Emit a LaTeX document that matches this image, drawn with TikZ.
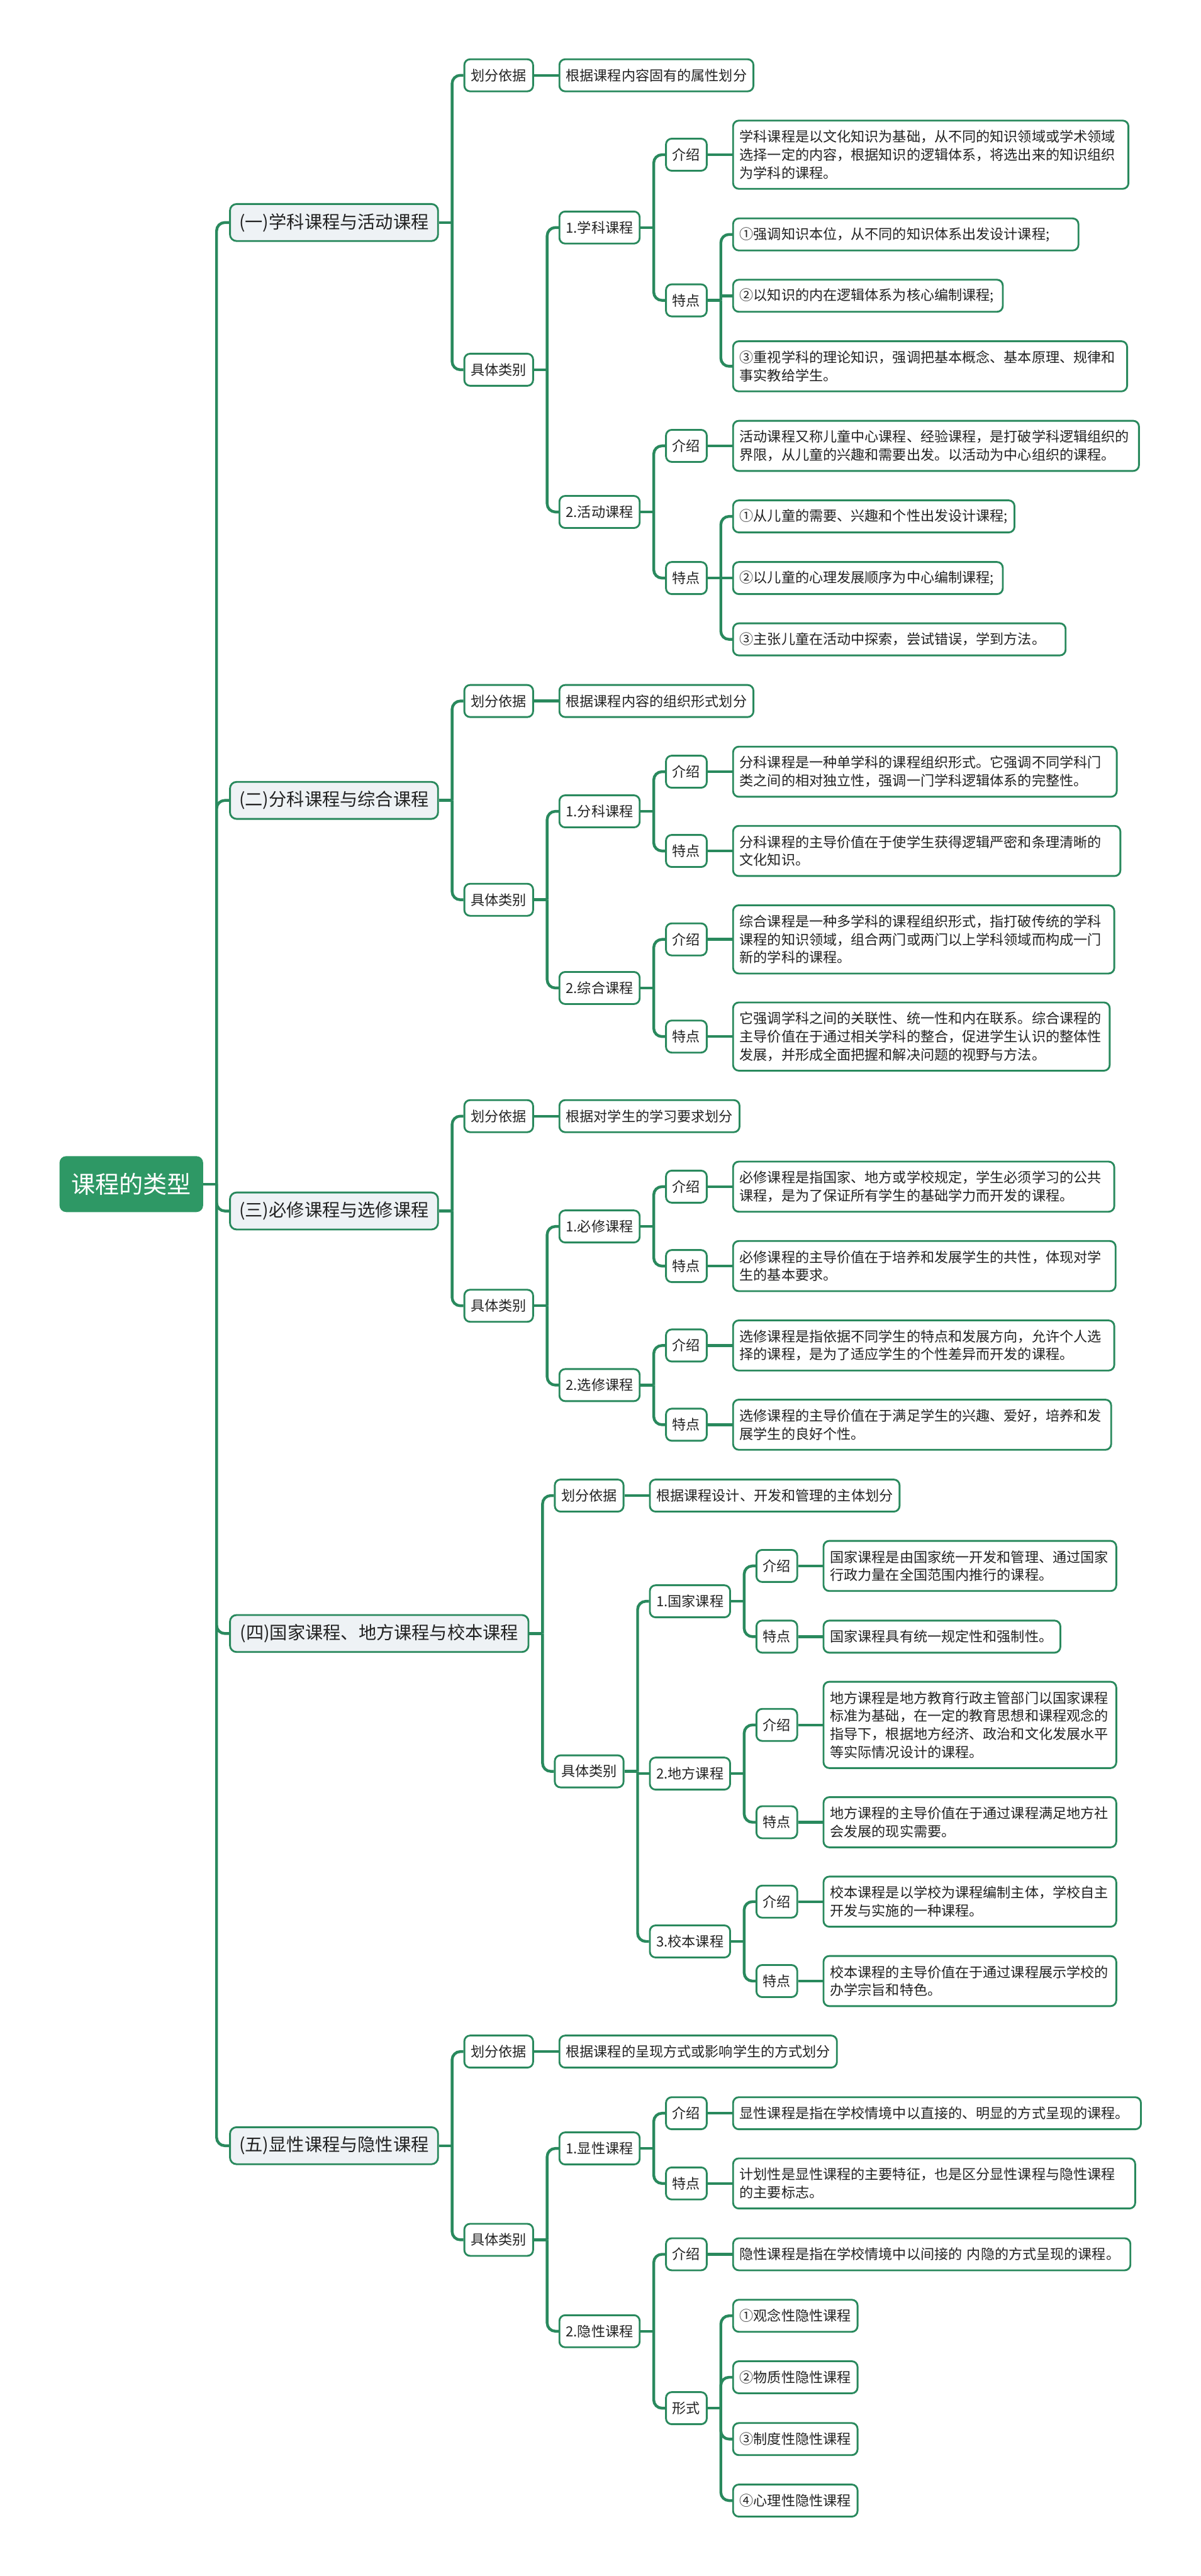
\documentclass[tikz,border=0pt]{standalone}
\usepackage{fontspec}
\newfontfamily\cjk{Noto Sans CJK SC}
\usetikzlibrary{backgrounds}
\definecolor{lg}{RGB}{41,137,93}
\definecolor{rootg}{RGB}{46,152,101}
\definecolor{lonefill}{RGB}{238,242,245}
\definecolor{txt}{RGB}{34,34,34}
\newcommand\mkstub[2]{\draw[conn] (#1.east) -- ++(8pt,0) coordinate (#2);}
\newcommand\mkelb[2]{\draw[conn] (#1) |- (#2.west);}
\newcommand\mkflat[2]{\draw[conn] (#1 |- #2.west) -- (#2.west);}
\newcommand\mkline[2]{\draw[conn] (#1.east) -- (#2.west);}
\begin{document}
\begin{tikzpicture}[x=1pt,y=-1pt,
  conn/.style={draw=lg, line width=1.7pt, rounded corners=5pt},
  nbase/.style={anchor=west, inner xsep=0pt, inner ysep=0pt, text=txt},
  rootbox/.style={nbase, fill=rootg, rounded corners=4pt, text=white,
    font=\cjk\fontsize{14.6}{17}\selectfont, minimum width=87.3pt, minimum height=34pt},
  lone/.style={nbase, draw=lg, line width=1.1pt, fill=lonefill, rounded corners=4pt,
    font=\cjk\fontsize{10.8}{13}\selectfont, minimum height=22.5pt, minimum width=126.5pt},
  lab/.style={nbase, draw=lg, line width=1.1pt, fill=white, rounded corners=3.5pt,
    font=\cjk\fontsize{8.46}{11}\selectfont, minimum height=19.5pt},
  ltwo/.style={lab, minimum width=41.8pt},
  lthree/.style={lab, minimum width=48.8pt},
  lfour/.style={lab, minimum width=24.8pt},
  leaf/.style={lab, inner xsep=4pt, align=left},
  lines2/.style={minimum height=30.5pt},
  lines3/.style={minimum height=41.5pt},
  lines4/.style={minimum height=52.5pt}]
\useasboundingbox (0,0) rectangle (730,1566.9);

% root
\node[rootbox] (root) at (36,720.25) {课程的类型};

% ---------- section 1
\node[lone] (a) at (139.3,135.35) {(一)学科课程与活动课程};
\node[ltwo] (a1) at (281.8,45.8) {划分依据};
\node[leaf] (a1x) at (339.6,45.8) {根据课程内容固有的属性划分};
\node[ltwo] (a2) at (281.8,224.9) {具体类别};
\node[lthree] (a21) at (339.6,138.4) {1.学科课程};
\node[lfour] (a21i) at (404.4,94.1) {介绍};
\node[leaf,text width=232.4pt,lines3] (a21ix) at (445.2,94.1) {学科课程是以文化知识为基础，从不同的知识领域或学术领域\\选择一定的内容，根据知识的逻辑体系，将选出来的知识组织\\为学科的课程。};
\node[lfour] (a21t) at (404.4,182.7) {特点};
\node[leaf,text width=202pt] (a21t1) at (445.2,142.6) {①强调知识本位，从不同的知识体系出发设计课程;};
\node[leaf,text width=156pt] (a21t2) at (445.2,179.9) {②以知识的内在逻辑体系为核心编制课程;};
\node[leaf,text width=231.6pt,lines2] (a21t3) at (445.2,222.8) {③重视学科的理论知识，强调把基本概念、基本原理、规律和\\事实教给学生。};
\node[lthree] (a22) at (339.6,311.4) {2.活动课程};
\node[lfour] (a22i) at (404.4,271.2) {介绍};
\node[leaf,text width=238.8pt,lines2] (a22ix) at (445.2,271.2) {活动课程又称儿童中心课程、经验课程，是打破学科逻辑组织的\\界限，从儿童的兴趣和需要出发。以活动为中心组织的课程。};
\node[lfour] (a22t) at (404.4,351.6) {特点};
\node[leaf,text width=163.1pt] (a22t1) at (445.2,314.1) {①从儿童的需要、兴趣和个性出发设计课程;};
\node[leaf,text width=156pt] (a22t2) at (445.2,351.6) {②以儿童的心理发展顺序为中心编制课程;};
\node[leaf,text width=194.2pt] (a22t3) at (445.2,388.9) {③主张儿童在活动中探索，尝试错误，学到方法。};

% ---------- section 2
\node[lone] (b) at (139.3,486.85) {(二)分科课程与综合课程};
\node[ltwo] (b1) at (281.8,426.4) {划分依据};
\node[leaf] (b1x) at (339.6,426.4) {根据课程内容的组织形式划分};
\node[ltwo] (b2) at (281.8,547.3) {具体类别};
\node[lthree] (b21) at (339.6,493.5) {1.分科课程};
\node[lfour] (b21i) at (404.4,469.4) {介绍};
\node[leaf,text width=225.3pt,lines2] (b21ix) at (445.2,469.4) {分科课程是一种单学科的课程组织形式。它强调不同学科门\\类之间的相对独立性，强调一门学科逻辑体系的完整性。};
\node[lfour] (b21t) at (404.4,517.6) {特点};
\node[leaf,text width=227.5pt,lines2] (b21tx) at (445.2,517.6) {分科课程的主导价值在于使学生获得逻辑严密和条理清晰的\\文化知识。};
\node[lthree] (b22) at (339.6,600.95) {2.综合课程};
\node[lfour] (b22i) at (404.4,571.4) {介绍};
\node[leaf,text width=223.8pt,lines3] (b22ix) at (445.2,571.4) {综合课程是一种多学科的课程组织形式，指打破传统的学科\\课程的知识领域，组合两门或两门以上学科领域而构成一门\\新的学科的课程。};
\node[lfour] (b22t) at (404.4,630.5) {特点};
\node[leaf,text width=221pt,lines3] (b22tx) at (445.2,630.5) {它强调学科之间的关联性、统一性和内在联系。综合课程的\\主导价值在于通过相关学科的整合，促进学生认识的整体性\\发展，并形成全面把握和解决问题的视野与方法。};

% ---------- section 3
\node[lone] (c) at (139.3,736.6) {(三)必修课程与选修课程};
\node[ltwo] (c1) at (281.8,678.9) {划分依据};
\node[leaf] (c1x) at (339.6,678.9) {根据对学生的学习要求划分};
\node[ltwo] (c2) at (281.8,794.25) {具体类别};
\node[lthree] (c21) at (339.6,746.0) {1.必修课程};
\node[lfour] (c21i) at (404.4,721.8) {介绍};
\node[leaf,text width=223.8pt,lines2] (c21ix) at (445.2,721.8) {必修课程是指国家、地方或学校规定，学生必须学习的公共\\课程，是为了保证所有学生的基础学力而开发的课程。};
\node[lfour] (c21t) at (404.4,770.1) {特点};
\node[leaf,text width=224.6pt,lines2] (c21tx) at (445.2,770.1) {必修课程的主导价值在于培养和发展学生的共性，体现对学\\生的基本要求。};
\node[lthree] (c22) at (339.6,842.5) {2.选修课程};
\node[lfour] (c22i) at (404.4,818.4) {介绍};
\node[leaf,text width=223.8pt,lines2] (c22ix) at (445.2,818.4) {选修课程是指依据不同学生的特点和发展方向，允许个人选\\择的课程，是为了适应学生的个性差异而开发的课程。};
\node[lfour] (c22t) at (404.4,866.6) {特点};
\node[leaf,text width=221.9pt,lines2] (c22tx) at (445.2,866.6) {选修课程的主导价值在于满足学生的兴趣、爱好，培养和发\\展学生的良好个性。};

% ---------- section 4
\node[lone,minimum width=181.5pt] (d) at (139.3,993.6) {(四)国家课程、地方课程与校本课程};
\node[ltwo] (d1) at (336.8,909.7) {划分依据};
\node[leaf] (d1x) at (394.6,909.7) {根据课程设计、开发和管理的主体划分};
\node[ltwo] (d2) at (336.8,1077.45) {具体类别};
\node[lthree] (d21) at (394.6,974.0) {1.国家课程};
\node[lfour] (d21i) at (459.4,952.5) {介绍};
\node[leaf,text width=170pt,lines2] (d21ix) at (500.2,952.5) {国家课程是由国家统一开发和管理、通过国家\\行政力量在全国范围内推行的课程。};
\node[lfour] (d21t) at (459.4,995.5) {特点};
\node[leaf,text width=136pt] (d21tx) at (500.2,995.5) {国家课程具有统一规定性和强制性。};
\node[lthree] (d22) at (394.6,1078.8) {2.地方课程};
\node[lfour] (d22i) at (459.4,1049.2) {介绍};
\node[leaf,text width=170pt,lines4] (d22ix) at (500.2,1049.2) {地方课程是地方教育行政主管部门以国家课程\\标准为基础，在一定的教育思想和课程观念的\\指导下，根据地方经济、政治和文化发展水平\\等实际情况设计的课程。};
\node[lfour] (d22t) at (459.4,1108.4) {特点};
\node[leaf,text width=170pt,lines2] (d22tx) at (500.2,1108.4) {地方课程的主导价值在于通过课程满足地方社\\会发展的现实需要。};
\node[lthree] (d23) at (394.6,1180.9) {3.校本课程};
\node[lfour] (d23i) at (459.4,1156.7) {介绍};
\node[leaf,text width=170pt,lines2] (d23ix) at (500.2,1156.7) {校本课程是以学校为课程编制主体，学校自主\\开发与实施的一种课程。};
\node[lfour] (d23t) at (459.4,1205.0) {特点};
\node[leaf,text width=170pt,lines2] (d23tx) at (500.2,1205.0) {校本课程的主导价值在于通过课程展示学校的\\办学宗旨和特色。};

% ---------- section 5
\node[lone] (e) at (139.3,1305.15) {(五)显性课程与隐性课程};
\node[ltwo] (e1) at (281.8,1247.9) {划分依据};
\node[leaf] (e1x) at (339.6,1247.9) {根据课程的呈现方式或影响学生的方式划分};
\node[ltwo] (e2) at (281.8,1362.4) {具体类别};
\node[lthree] (e21) at (339.6,1306.8) {1.显性课程};
\node[lfour] (e21i) at (404.4,1285.4) {介绍};
\node[leaf,text width=240pt] (e21ix) at (445.2,1285.4) {显性课程是指在学校情境中以直接的、明显的方式呈现的课程。};
\node[lfour] (e21t) at (404.4,1328.1) {特点};
\node[leaf,text width=236.5pt,lines2] (e21tx) at (445.2,1328.1) {计划性是显性课程的主要特征，也是区分显性课程与隐性课程\\的主要标志。};
\node[lthree] (e22) at (339.6,1418.0) {2.隐性课程};
\node[lfour] (e22i) at (404.4,1371.2) {介绍};
\node[leaf,text width=233.6pt] (e22ix) at (445.2,1371.2) {隐性课程是指在学校情境中以间接的~内隐的方式呈现的课程。};
\node[lfour] (e22f) at (404.4,1464.8) {形式};
\node[leaf] (e22f1) at (445.2,1408.6) {①观念性隐性课程};
\node[leaf] (e22f2) at (445.2,1446.0) {②物质性隐性课程};
\node[leaf] (e22f3) at (445.2,1483.6) {③制度性隐性课程};
\node[leaf] (e22f4) at (445.2,1521.0) {④心理性隐性课程};

% ---------- connectors
\begin{scope}[on background layer]
\mkstub{root}{rj}
\mkelb{rj}{a}\mkelb{rj}{b}\mkelb{rj}{c}\mkelb{rj}{d}\mkelb{rj}{e}
% s1
\mkstub{a}{aj}\mkelb{aj}{a1}\mkelb{aj}{a2}
\mkline{a1}{a1x}
\mkstub{a2}{a2j}\mkelb{a2j}{a21}\mkelb{a2j}{a22}
\mkstub{a21}{a21j}\mkelb{a21j}{a21i}\mkelb{a21j}{a21t}
\mkline{a21i}{a21ix}
\mkstub{a21t}{a21tj}\mkelb{a21tj}{a21t1}\mkflat{a21tj}{a21t2}\mkelb{a21tj}{a21t3}
\mkstub{a22}{a22j}\mkelb{a22j}{a22i}\mkelb{a22j}{a22t}
\mkline{a22i}{a22ix}
\mkstub{a22t}{a22tj}\mkelb{a22tj}{a22t1}\mkflat{a22tj}{a22t2}\mkelb{a22tj}{a22t3}
% s2
\mkstub{b}{bj}\mkelb{bj}{b1}\mkelb{bj}{b2}
\mkline{b1}{b1x}
\mkstub{b2}{b2j}\mkelb{b2j}{b21}\mkelb{b2j}{b22}
\mkstub{b21}{b21j}\mkelb{b21j}{b21i}\mkelb{b21j}{b21t}
\mkline{b21i}{b21ix}\mkline{b21t}{b21tx}
\mkstub{b22}{b22j}\mkelb{b22j}{b22i}\mkelb{b22j}{b22t}
\mkline{b22i}{b22ix}\mkline{b22t}{b22tx}
% s3
\mkstub{c}{cj}\mkelb{cj}{c1}\mkelb{cj}{c2}
\mkline{c1}{c1x}
\mkstub{c2}{c2j}\mkelb{c2j}{c21}\mkelb{c2j}{c22}
\mkstub{c21}{c21j}\mkelb{c21j}{c21i}\mkelb{c21j}{c21t}
\mkline{c21i}{c21ix}\mkline{c21t}{c21tx}
\mkstub{c22}{c22j}\mkelb{c22j}{c22i}\mkelb{c22j}{c22t}
\mkline{c22i}{c22ix}\mkline{c22t}{c22tx}
% s4
\mkstub{d}{dj}\mkelb{dj}{d1}\mkelb{dj}{d2}
\mkline{d1}{d1x}
\mkstub{d2}{d2j}\mkelb{d2j}{d21}\mkflat{d2j}{d22}\mkelb{d2j}{d23}
\mkstub{d21}{d21j}\mkelb{d21j}{d21i}\mkelb{d21j}{d21t}
\mkline{d21i}{d21ix}\mkline{d21t}{d21tx}
\mkstub{d22}{d22j}\mkelb{d22j}{d22i}\mkelb{d22j}{d22t}
\mkline{d22i}{d22ix}\mkline{d22t}{d22tx}
\mkstub{d23}{d23j}\mkelb{d23j}{d23i}\mkelb{d23j}{d23t}
\mkline{d23i}{d23ix}\mkline{d23t}{d23tx}
% s5
\mkstub{e}{ej}\mkelb{ej}{e1}\mkelb{ej}{e2}
\mkline{e1}{e1x}
\mkstub{e2}{e2j}\mkelb{e2j}{e21}\mkelb{e2j}{e22}
\mkstub{e21}{e21j}\mkelb{e21j}{e21i}\mkelb{e21j}{e21t}
\mkline{e21i}{e21ix}\mkline{e21t}{e21tx}
\mkstub{e22}{e22j}\mkelb{e22j}{e22i}\mkelb{e22j}{e22f}
\mkline{e22i}{e22ix}
\mkstub{e22f}{e22fj}\mkelb{e22fj}{e22f1}\mkelb{e22fj}{e22f2}\mkelb{e22fj}{e22f3}\mkelb{e22fj}{e22f4}
\end{scope}
\end{tikzpicture}
\end{document}
